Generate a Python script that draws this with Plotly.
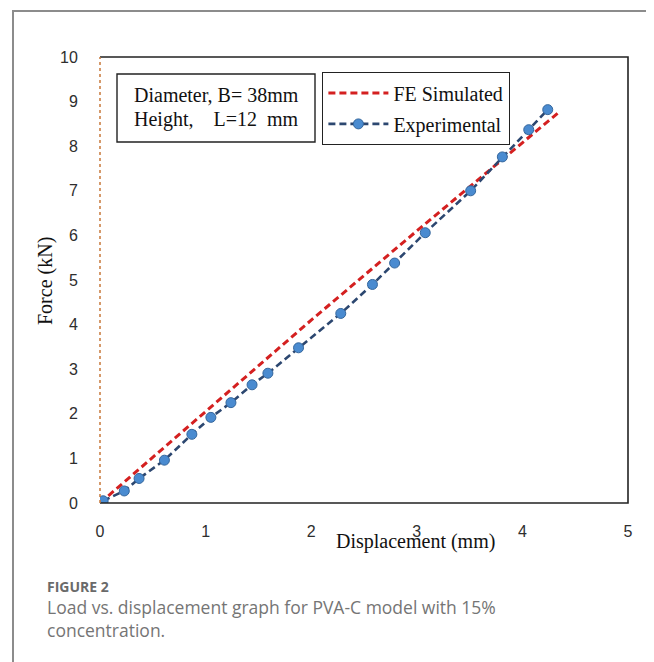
import plotly.graph_objects as go

# Data
exp_disp = [0.03, 0.23, 0.37, 0.61, 0.87, 1.05, 1.24, 1.44, 1.59, 1.88, 2.28, 2.58, 2.79, 3.08, 3.51, 3.81, 4.06, 4.24]
exp_force = [0.05, 0.27, 0.55, 0.96, 1.54, 1.92, 2.25, 2.65, 2.91, 3.48, 4.25, 4.90, 5.38, 6.06, 7.00, 7.76, 8.37, 8.82]
fe_disp = [0.0, 1.0, 2.0, 3.0, 4.0, 4.34]
fe_force = [0.0, 2.05, 4.10, 6.10, 8.08, 8.75]
x_ticks = [0, 1, 2, 3, 4, 5]
y_ticks = [0, 1, 2, 3, 4, 5, 6, 7, 8, 9, 10]

OFF = 8  # default page body margin
W, H = 654 - OFF, 662 - OFF
L, R, T, B = 100 - OFF, 628 - OFF, 57 - OFF, 503 - OFF


def px(x):
    return (x - OFF - L) / (R - L)


def py(y):
    return (B - (y - OFF)) / (B - T)


fig = go.Figure()
fig.add_trace(go.Scatter(
    x=fe_disp, y=fe_force, mode="lines", name="FE Simulated",
    line=dict(color="#d42020", width=3, dash="7px,4px"),
    legendgroup="a",
))
fig.add_trace(go.Scatter(
    x=exp_disp, y=exp_force, mode="lines+markers", name="Experimental",
    line=dict(color="#2c4770", width=2.6, dash="7px,4px"),
    marker=dict(symbol="circle", size=10, color="#4a8bd0", line=dict(color="#35679d", width=1)),
    legendgroup="b",
))

serif = "Liberation Serif, Times New Roman, serif"
tickfont = dict(family="Liberation Sans, Arial, sans-serif", size=16, color="#2e2e2e")
capfont = "Open Sans, Lato, sans-serif"

shapes = [
    # card border
    dict(type="line", xref="paper", yref="paper", x0=px(13), x1=px(13), y0=py(11), y1=py(700),
         line=dict(color="#8c8c8c", width=2)),
    dict(type="line", xref="paper", yref="paper", x0=px(12), x1=px(700), y0=py(11), y1=py(11),
         line=dict(color="#8c8c8c", width=2)),
    # plot frame (top, right, bottom)
    dict(type="path", xref="paper", yref="paper",
         path="M 0 1 L 1 1 L 1 0 L 0 0", line=dict(color="#222222", width=1.6)),
    dict(type="line", xref="paper", yref="paper", x0=0, x1=0, y0=0, y1=1,
         line=dict(color="#c8783a", width=1.5, dash="dot")),
    # info box
    dict(type="rect", xref="paper", yref="paper", x0=px(117), x1=px(315), y0=py(142), y1=py(74),
         line=dict(color="#222222", width=1.4), fillcolor="white"),
]

annotations = [
    dict(xref="paper", yref="paper", x=px(132), y=py(95), xanchor="left", yanchor="middle",
         text="Diameter, B= 38mm", showarrow=False, font=dict(family=serif, size=20, color="#111111")),
    dict(xref="paper", yref="paper", x=px(132), y=py(120), xanchor="left", yanchor="middle",
         text="Height,    L=12  mm", showarrow=False, font=dict(family=serif, size=20, color="#111111")),
    dict(xref="paper", yref="paper", x=px(415), y=py(541), xanchor="center", yanchor="middle",
         text="Displacement (mm)", showarrow=False, font=dict(family=serif, size=20, color="#111111")),
    dict(xref="paper", yref="paper", x=px(45), y=py(281), xanchor="center", yanchor="middle",
         text="Force (kN)", textangle=-90, showarrow=False, font=dict(family=serif, size=20, color="#111111")),
    dict(xref="paper", yref="paper", x=px(45), y=py(586), xanchor="left", yanchor="middle",
         text="<b>FIGURE 2</b>", showarrow=False, font=dict(family=capfont, size=14, color="#6a6a6a")),
    dict(xref="paper", yref="paper", x=px(45), y=py(619), xanchor="left", yanchor="middle", align="left",
         text="Load vs. displacement graph for PVA-C model with 15%<br>concentration.", showarrow=False,
         font=dict(family=capfont, size=17.5, color="#757575")),
]

fig.update_layout(
    width=W, height=H,
    margin=dict(l=L, r=W - R, t=T, b=H - B, pad=0),
    paper_bgcolor="white", plot_bgcolor="white",
    showlegend=True,
    legend=dict(
        x=px(322), y=py(72), xanchor="left", yanchor="top",
        bordercolor="#222222", borderwidth=1.4, bgcolor="white",
        font=dict(family=serif, size=20, color="#111111"),
        tracegroupgap=2, itemwidth=60,
    ),
    xaxis=dict(range=[0, 5], tickvals=x_ticks, showgrid=False, zeroline=False, showline=False,
               ticks="outside", ticklen=14, tickcolor="rgba(0,0,0,0)", tickfont=tickfont),
    yaxis=dict(range=[0, 10], tickvals=y_ticks, showgrid=False, zeroline=False, showline=False,
               ticks="outside", ticklen=18, tickcolor="rgba(0,0,0,0)", tickfont=tickfont),
    shapes=shapes,
    annotations=annotations,
)

fig.write_html("out.html")
